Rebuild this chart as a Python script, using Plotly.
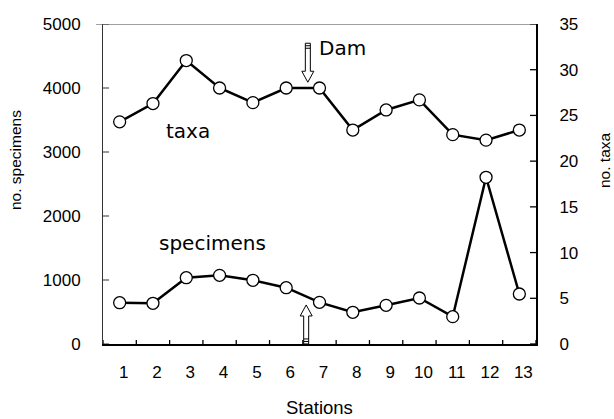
import plotly.graph_objects as go

stations = [1, 2, 3, 4, 5, 6, 7, 8, 9, 10, 11, 12, 13]
specimens = [645, 636, 1036, 1073, 995, 880, 651, 495, 604, 719, 427, 2605, 781]
taxa = [24.3, 26.3, 31.0, 28.0, 26.4, 28.0, 28.0, 23.4, 25.6, 26.7, 22.9, 22.3, 23.4]
left_ticks = [0, 1000, 2000, 3000, 4000, 5000]
right_ticks = [0, 5, 10, 15, 20, 25, 30, 35]
x_tick_labels = [str(s) for s in stations]

TICKFONT = dict(family="Liberation Sans, Arial", size=17, color="black")
TITLEFONT = dict(family="Liberation Sans, Arial", size=15.5, color="black")
ANNFONT = dict(family="DejaVu Sans", size=20, color="black")

fig = go.Figure()
marker = dict(symbol="circle", size=12, color="white", line=dict(color="black", width=1.3))
fig.add_trace(go.Scatter(x=stations, y=specimens, mode="lines+markers",
                         line=dict(color="black", width=2.5), marker=marker,
                         yaxis="y", showlegend=False))
fig.add_trace(go.Scatter(x=stations, y=taxa, mode="lines+markers",
                         line=dict(color="black", width=2.5), marker=marker,
                         yaxis="y2", showlegend=False))

shapes = []
# crossing ticks on the left axis
for v in left_ticks:
    shapes.append(dict(type="line", xref="x", yref="y", xsizemode="pixel", xanchor=0.5,
                       x0=-7, x1=6, y0=v, y1=v, line=dict(color="#333", width=1)))
# crossing ticks on the right axis
for v in right_ticks:
    shapes.append(dict(type="line", xref="x", yref="y2", xsizemode="pixel", xanchor=13.5,
                       x0=-6, x1=6, y0=v, y1=v, line=dict(color="black", width=1.3)))
# x ticks at category boundaries
for b in [s - 0.5 for s in stations] + [stations[-1] + 0.5]:
    shapes.append(dict(type="line", xref="x", yref="y", ysizemode="pixel", yanchor=0,
                       x0=b, x1=b, y0=-6, y1=4, line=dict(color="black", width=1.3)))
# top border line
shapes.append(dict(type="line", xref="paper", yref="y", x0=-7 / 433, x1=1, y0=5000, y1=5000,
                   line=dict(color="#444", width=1)))
# hollow "Dam" arrows
shapes.append(dict(type="path", xref="x", yref="y", xsizemode="pixel", ysizemode="pixel",
                   xanchor=6.65, yanchor=4090,
                   path="M 0 0 L -6 11 L -2.5 11 L -2.5 39 L 2.5 39 L 2.5 11 L 6 11 Z "
                        "M -2.5 34 L 2.5 34 M -2.5 36.5 L 2.5 36.5",
                   fillcolor="white", line=dict(color="black", width=1)))
shapes.append(dict(type="path", xref="x", yref="y", xsizemode="pixel", ysizemode="pixel",
                   xanchor=6.6, yanchor=610,
                   path="M 0 0 L -6 -11 L -2.5 -11 L -2.5 -39 L 2.5 -39 L 2.5 -11 L 6 -11 Z "
                        "M -2.5 -34 L 2.5 -34 M -2.5 -36.5 L 2.5 -36.5",
                   fillcolor="white", line=dict(color="black", width=1)))

annotations = [
    dict(text="taxa", x=3.05, y=3330, xref="x", yref="y", showarrow=False, font=ANNFONT),
    dict(text="specimens", x=3.8, y=1580, xref="x", yref="y", showarrow=False, font=ANNFONT),
    dict(text="Dam", x=6.92, y=4630, xref="x", yref="y", xanchor="left", showarrow=False, font=ANNFONT),
    dict(text="no. specimens", x=0, y=0.575, xref="paper", yref="paper", xshift=-88, textangle=-90,
         xanchor="center", yanchor="middle", showarrow=False, borderpad=0, font=TITLEFONT),
    dict(text="no. taxa", x=1, y=0.575, xref="paper", yref="paper", xshift=68, textangle=-90,
         xanchor="center", yanchor="middle", showarrow=False, borderpad=0, font=TITLEFONT),
    dict(text="Stations", x=0.5, y=0, xref="paper", yref="paper", yshift=-63,
         xanchor="center", yanchor="middle", showarrow=False, borderpad=0,
         font=dict(family="Liberation Sans, Arial", size=18.5, color="black")),
]

fig.update_layout(
    width=614, height=419,
    margin=dict(l=103, r=78, t=24, b=75),
    paper_bgcolor="white", plot_bgcolor="white",
    xaxis=dict(range=[0.5, 13.5], tickvals=stations, ticktext=x_tick_labels, ticks="",
               showgrid=False, zeroline=False, showline=True, linecolor="black", linewidth=1.5,
               tickfont=TICKFONT, ticklabelstandoff=12, ticklabelshift=4),
    yaxis=dict(range=[0, 5000], tickvals=left_ticks, ticks="", showgrid=False, zeroline=False,
               showline=True, linecolor="#333", linewidth=1, tickfont=TICKFONT,
               ticklabelstandoff=18),
    yaxis2=dict(range=[0, 35], tickvals=right_ticks, ticks="", overlaying="y", side="right",
                showgrid=False, zeroline=False, showline=True, linecolor="black", linewidth=2,
                tickfont=TICKFONT, ticklabelstandoff=18),
    shapes=shapes,
    annotations=annotations,
)

fig.write_html("out.html")
